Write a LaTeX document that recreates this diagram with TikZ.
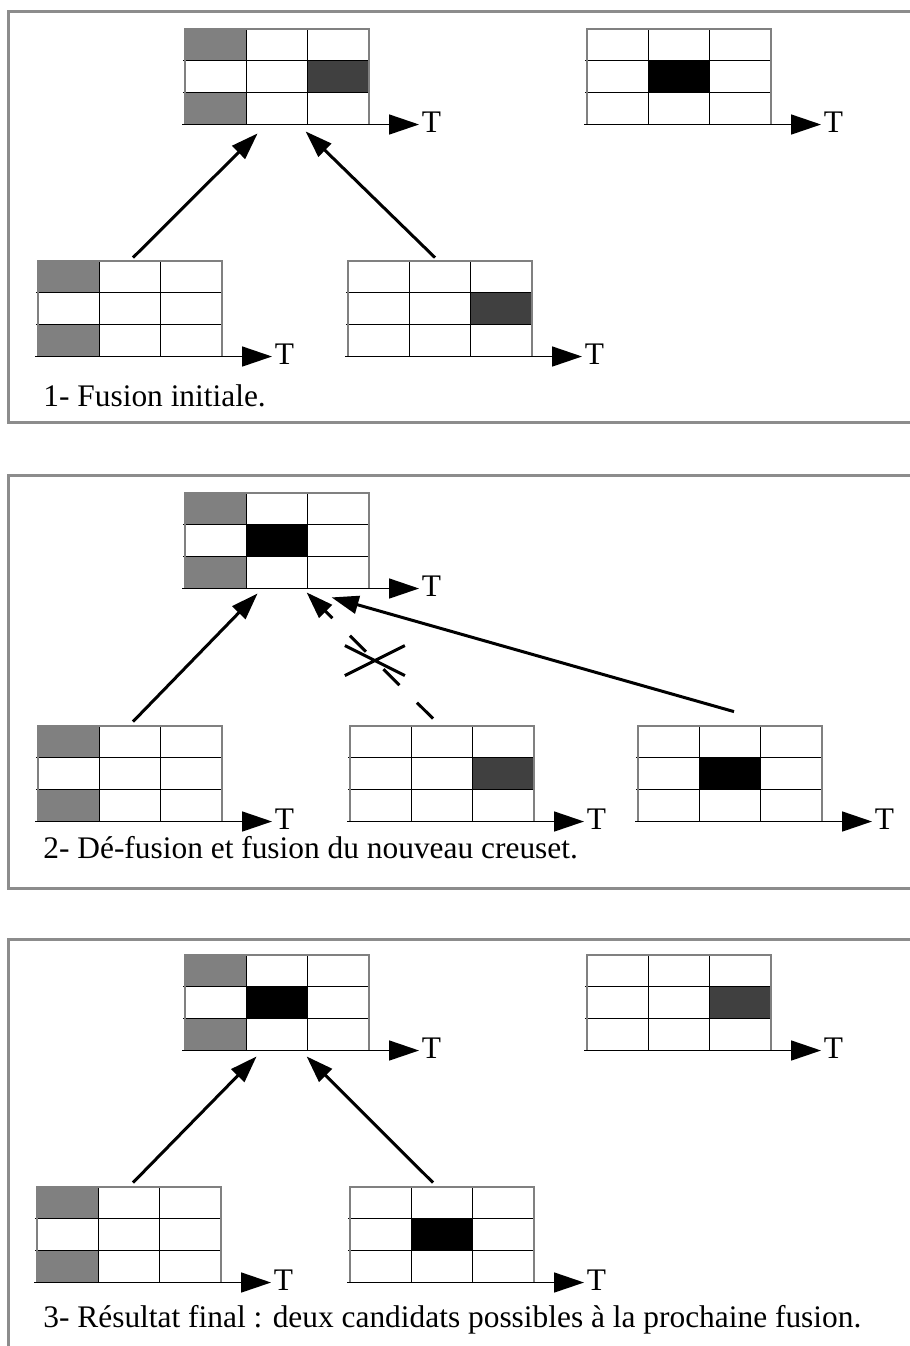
\documentclass[tikz,border=0pt]{standalone}
\usepackage{fontspec}
\setmainfont{Liberation Serif}
\usetikzlibrary{arrows.meta, calc, shapes.misc}

\definecolor{gris}{HTML}{808080}
\definecolor{sombre}{HTML}{404040}
\definecolor{cadregris}{HTML}{8C8C8C}

\tikzset{
  panneau/.style={draw=cadregris, line width=1.5pt},
  trait/.style={line width=0.6pt},
  bord/.style={draw=gray, line width=0.6pt},
  axe/.style={line width=0.8pt, -{Triangle[length=15pt, width=10pt]}},
  lettre/.style={anchor=base west, inner sep=0pt, xshift=1pt, yshift=-4pt, font=\fontsize{15.7}{19}\selectfont},
  boite/.style={minimum width=92pt, minimum height=47.75pt, inner sep=0pt},
  fleche/.style={line width=1.5pt, -{Triangle[length=13.5pt, width=9pt]}},
  coupee/.style={fleche, dash pattern=on 11.3pt off 12.4pt},
  croix/.style={cross out, draw, solid, line width=1.5pt, minimum width=28.5pt, minimum height=13.5pt, inner sep=0pt},
  legende/.style={anchor=base west, inner sep=0pt, font=\fontsize{15.7}{19}\selectfont}
}

% grille 3x3 : nom, coin haut gauche, cases remplies col/lig/teinte
\newcommand{\grille}[4]{%
  \begin{scope}[shift={(#2,#3)}]
    \foreach \col/\lig/\teinte in {#4}
      \fill[\teinte] ({(\col-1)*61.33},{(\lig-1)*31.83}) rectangle ++(61.33,31.83);
    \draw[trait] (61.33,0) -- (61.33,95.5) (122.67,0) -- (122.67,95.5)
      (-2,31.83) -- (184,31.83) (-2,63.67) -- (184,63.67);
    \draw[bord] (0,0) rectangle (184,95.5);
    \node[boite] (#1) at (92,47.75) {};
    \draw[axe] (-3,95.5) -- (234,95.5) node[lettre] {T};
  \end{scope}}

\begin{document}
\begin{tikzpicture}[x=0.5pt, y=-0.5pt]
  \useasboundingbox (0,0) rectangle (910,1346);
  \clip (0,0) rectangle (910,1346);

  % Cadres
  \draw[panneau] (920,11) -- (8,11) -- (8,422) -- (920,422);
  \draw[panneau] (920,475) -- (8,475) -- (8,888) -- (920,888);
  \draw[panneau] (920,939) -- (8,939) -- (8,1360);

  % 1- Fusion initiale
  \grille{haut1}{185}{29}{1/1/gris, 3/2/sombre, 1/3/gris}
  \grille{droite1}{587}{29}{2/2/black}
  \grille{gauche1}{38}{261}{1/1/gris, 1/3/gris}
  \grille{milieu1}{348}{261}{3/2/sombre}
  \draw[fleche] ($(gauche1.north)+(3,-3)$) -- ($(haut1.south west)+(73,8.5)$);
  \draw[fleche] ($(milieu1.north)+(-5,-3)$) -- ($(haut1.south west)+(121,6.5)$);
  \node[legende] (leg1) at (43,406) {1- Fusion initiale.};

  % 2- De-fusion
  \grille{haut2}{185}{493}{1/1/gris, 2/2/black, 1/3/gris}
  \grille{gauche2}{38}{726}{1/1/gris, 1/3/gris}
  \grille{milieu2}{350}{726}{3/2/sombre}
  \grille{droite2}{638}{726}{2/2/black}
  \draw[fleche] ($(gauche2.north)+(3,-4)$) -- ($(haut2.south west)+(73,4.5)$);
  \draw[coupee] ($(milieu2.north)+(-9,-7)$) -- node[croix, pos=0.46] (x2) {} ($(haut2.south west)+(122,3.5)$);
  \draw[fleche] ($(droite2.north)+(4,-14)$) -- ($(haut2.south west)+(147,8.5)$);
  \node[legende] (leg2) at (43,858) {2- Dé-fusion et fusion du nouveau creuset.};

  % 3- Resultat final
  \grille{haut3}{185}{955}{1/1/gris, 2/2/black, 1/3/gris}
  \grille{droite3}{587}{955}{3/2/sombre}
  \grille{gauche3}{37}{1187}{1/1/gris, 1/3/gris}
  \grille{milieu3}{350}{1187}{2/2/black}
  \draw[fleche] ($(gauche3.north)+(4,-4)$) -- ($(haut3.south west)+(72,5.5)$);
  \draw[fleche] ($(milieu3.north)+(-9,-4)$) -- ($(haut3.south west)+(122,5.5)$);
  \node[legende] (leg3) at (43,1327) {3- Résultat final : deux candidats possibles à la prochaine fusion.};
\end{tikzpicture}
\end{document}
